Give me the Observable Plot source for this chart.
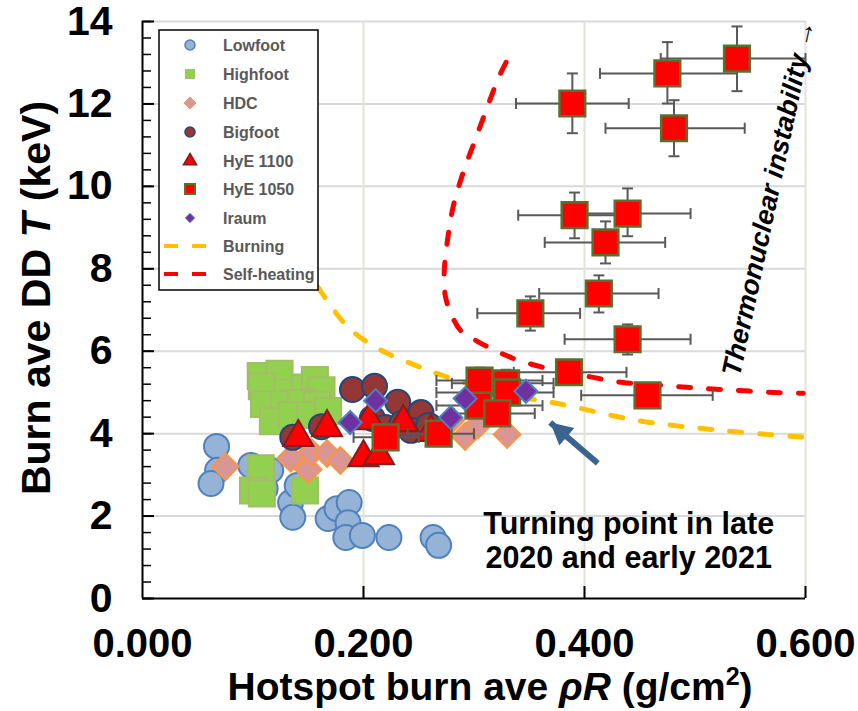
<!DOCTYPE html>
<html>
<head>
<meta charset="utf-8">
<script src="https://cdn.jsdelivr.net/npm/d3@7"></script>
<script src="https://cdn.jsdelivr.net/npm/@observablehq/plot@0.6"></script>
<style>
  html, body { margin: 0; padding: 0; background: #fff; }
  #chart { position: relative; width: 858px; height: 711px; }
  #legend { position: absolute; left: 158px; top: 29px; }
</style>
</head>
<body>
<div id="chart"></div>
<script>
// ---- axis ticks ----
const xTicks = [0, 0.2, 0.4, 0.6];
const yTicks = [0, 2, 4, 6, 8, 10, 12, 14];
const yMinorTicks = d3.range(0, 14.001, 0.4);

// ---- shot data: [hotspot rhoR (g/cm2), burn-averaged DD T (keV)] ----
const lowfoot = [
  [0.067, 3.69], [0.068, 3.11], [0.062, 2.79], [0.098, 3.23], [0.116, 3.11],
  [0.111, 2.67], [0.134, 2.33], [0.136, 1.97], [0.140, 2.74], [0.168, 1.94],
  [0.176, 2.18], [0.187, 2.33], [0.186, 1.84], [0.184, 1.48], [0.199, 1.53],
  [0.223, 1.48], [0.263, 1.48], [0.268, 1.29]
];
const highfoot = [
  [0.107, 5.40], [0.124, 5.45], [0.108, 5.15], [0.131, 5.00], [0.147, 5.12],
  [0.156, 5.30], [0.162, 5.05], [0.110, 4.72], [0.128, 4.72], [0.143, 4.75],
  [0.158, 4.70], [0.118, 4.30], [0.135, 4.45], [0.152, 4.45], [0.168, 4.55],
  [0.107, 3.16], [0.100, 2.62], [0.108, 2.55], [0.147, 2.62]
];
const hdc = [
  [0.075, 3.20], [0.134, 3.40], [0.150, 3.13], [0.153, 3.54], [0.167, 3.52],
  [0.179, 3.35], [0.279, 4.32], [0.292, 3.93], [0.304, 4.22], [0.330, 3.98]
];
const bigfoot = [
  [0.136, 3.91], [0.162, 4.17], [0.190, 5.07], [0.210, 5.15], [0.231, 4.76],
  [0.208, 4.37], [0.220, 4.15], [0.235, 4.25], [0.252, 4.51], [0.243, 4.08],
  [0.259, 4.20]
];
const hye1100 = [
  [0.141, 3.91], [0.167, 4.15], [0.205, 4.32], [0.200, 3.42], [0.214, 3.47],
  [0.236, 4.27], [0.261, 4.03]
];
// [rhoR, T, rhoR low, rhoR high, T low, T high]
const hye1050 = [
  [0.389, 12.01, 0.338, 0.440, 11.29, 12.74],
  [0.475, 12.74, 0.414, 0.538, 12.01, 13.50],
  [0.538, 13.10, 0.469, 0.600, 12.31, 13.88],
  [0.481, 11.41, 0.419, 0.545, 10.73, 12.09],
  [0.391, 9.30, 0.340, 0.440, 8.74, 9.85],
  [0.439, 9.34, 0.390, 0.496, 8.79, 9.95],
  [0.419, 8.64, 0.364, 0.473, 8.13, 9.15],
  [0.413, 7.40, 0.359, 0.467, 6.94, 7.84],
  [0.351, 6.92, 0.303, 0.396, 6.50, 7.33],
  [0.439, 6.29, 0.382, 0.496, 5.92, 6.65],
  [0.386, 5.49, 0.336, 0.438, 5.30, 5.70],
  [0.457, 4.93, 0.397, 0.516, 4.75, 5.10],
  [0.305, 5.29, 0.266, 0.362, 5.00, 5.60],
  [0.329, 5.22, 0.280, 0.372, 4.95, 5.55],
  [0.330, 5.00, 0.266, 0.372, 4.80, 5.25],
  [0.304, 4.68, 0.266, 0.362, 4.45, 4.95],
  [0.321, 4.49, 0.282, 0.355, 4.25, 4.75],
  [0.220, 3.91, 0.191, 0.250, 3.70, 4.10],
  [0.268, 4.00, 0.240, 0.300, 3.80, 4.20]
];
const iraum = [
  [0.188, 4.27], [0.211, 4.80], [0.279, 4.39], [0.292, 4.85], [0.347, 5.03]
];

// ---- model boundaries ----
const burningCurve = [
  [0.159, 7.55], [0.186, 6.58], [0.215, 6.04], [0.245, 5.68], [0.277, 5.36],
  [0.324, 4.98], [0.376, 4.73], [0.448, 4.32], [0.523, 4.08], [0.600, 3.91]
];
const selfHeatingCurve = [
  [0.329, 13.01], [0.322, 12.62], [0.312, 11.92], [0.301, 11.12], [0.290, 10.32],
  [0.281, 9.49], [0.276, 8.69], [0.273, 7.89], [0.274, 7.35], [0.279, 6.92],
  [0.288, 6.50], [0.303, 6.24], [0.319, 6.02], [0.338, 5.80], [0.367, 5.58],
  [0.399, 5.41], [0.435, 5.24], [0.471, 5.17], [0.505, 5.10], [0.538, 5.05],
  [0.571, 5.00], [0.598, 4.98]
];

// ---- annotations ----
const turningNote = [{x: 0.44, y: 1.42, text: "Turning point in late\n2020 and early 2021"}];
const thermoNote = [{x: 0.567, y: 9.72, text: "Thermonuclear instability \u2192"}];
const turningArrow = [{x1: 0.412, y1: 3.28, x2: 0.369, y2: 4.27}];

// ---- legend ----
const legendLabels = ["Lowfoot", "Highfoot", "HDC", "Bigfoot", "HyE 1100", "HyE 1050", "Iraum", "Burning", "Self-heating"];

// ---- styles ----
const FONT = "'Liberation Sans', Arial, Helvetica, sans-serif";
const W = 858, H = 711;
const M = {left: 142, right: 53, top: 21, bottom: 113};
const plotW = W - M.left - M.right, plotH = H - M.top - M.bottom;
const st = {
  lowfoot:  {fill: "#95b3d7", stroke: "#4f81bd"},
  highfoot: {fill: "#92d050", stroke: "#a3bd66"},
  hdc:      {fill: "#d99694", stroke: "#f79646"},
  bigfoot:  {fill: "#953735", stroke: "#1f497d"},
  hye1100:  {fill: "#ff0000", stroke: "#7f1f1f"},
  hye1050:  {fill: "#ff0000", stroke: "#5a7030"},
  iraum:    {fill: "#7030a0", stroke: "#4f81bd"},
  burning: "#ffc000", selfHeating: "#ff0000", errorBar: "#595959", arrow: "#3b6390"
};

// short line symbols for error-bar caps
const vCap = {draw(ctx, size) { const h = Math.sqrt(size / Math.PI); ctx.moveTo(0, -h); ctx.lineTo(0, h); }};
const hCap = {draw(ctx, size) { const h = Math.sqrt(size / Math.PI); ctx.moveTo(-h, 0); ctx.lineTo(h, 0); }};
// arrow head with its tip at the origin, pointing up
const arrowHead = {draw(ctx, size) {
  const s = Math.sqrt(size / Math.PI);
  ctx.moveTo(0, 0); ctx.lineTo(-s, 1.9 * s); ctx.lineTo(s, 1.9 * s); ctx.closePath();
}};

const sx = Plot.scale({x: {domain: [0, 0.6], range: [M.left, W - M.right]}});
const sy = Plot.scale({y: {domain: [0, 14], range: [H - M.bottom, M.top]}});
const a = turningArrow[0];
const headAngle = Math.atan2(sx.apply(a.x2) - sx.apply(a.x1), -(sy.apply(a.y2) - sy.apply(a.y1))) * 180 / Math.PI;

const series = (data, symbol, r, s, sw = 2) =>
  Plot.dot(data, {x: d => d[0], y: d => d[1], symbol, r, fill: s.fill, stroke: s.stroke, strokeWidth: sw});

const curve = (data, color) =>
  Plot.line(data, {x: d => d[0], y: d => d[1], curve: "catmull-rom", stroke: color,
    strokeWidth: 5, strokeDasharray: "12 18", strokeLinecap: "round"});

const chart = Plot.plot({
  width: W, height: H,
  marginLeft: M.left, marginRight: M.right, marginTop: M.top, marginBottom: M.bottom,
  x: {domain: [0, 0.6]},
  y: {domain: [0, 14]},
  style: {fontFamily: FONT, background: "#fff", overflow: "visible"},
  marks: [
    Plot.gridY(yTicks.slice(1), {stroke: "#d9d9d9", strokeOpacity: 1, strokeWidth: 2}),
    Plot.gridX(xTicks.slice(1), {stroke: "#e6e2d5", strokeOpacity: 1, strokeWidth: 2}),
    curve(burningCurve, st.burning),
    curve(selfHeatingCurve, st.selfHeating),
    series(lowfoot, "circle", 12.5, st.lowfoot),
    series(highfoot, "square", 14.7, st.highfoot),
    series(hdc, "diamond2", 12, st.hdc),
    series(bigfoot, "circle", 12.5, st.bigfoot),
    series(hye1100, "triangle", 11.2, st.hye1100),
    // error bars behind the HyE 1050 squares
    Plot.ruleY(hye1050, {y: d => d[1], x1: d => d[2], x2: d => d[3], stroke: st.errorBar, strokeWidth: 2}),
    Plot.ruleX(hye1050, {x: d => d[0], y1: d => d[4], y2: d => d[5], stroke: st.errorBar, strokeWidth: 2}),
    Plot.dot(hye1050, {x: d => d[2], y: d => d[1], symbol: vCap, r: 5.5, fill: "none", stroke: st.errorBar, strokeWidth: 2}),
    Plot.dot(hye1050, {x: d => d[3], y: d => d[1], symbol: vCap, r: 5.5, fill: "none", stroke: st.errorBar, strokeWidth: 2}),
    Plot.dot(hye1050, {x: d => d[0], y: d => d[4], symbol: hCap, r: 5.5, fill: "none", stroke: st.errorBar, strokeWidth: 2}),
    Plot.dot(hye1050, {x: d => d[0], y: d => d[5], symbol: hCap, r: 5.5, fill: "none", stroke: st.errorBar, strokeWidth: 2}),
    series(hye1050, "square", 14.5, st.hye1050, 2.5),
    series(iraum, "diamond2", 10.4, st.iraum),
    // axes
    Plot.tickY(yMinorTicks, {y: d => d, insetRight: plotW - 9, stroke: "#000", strokeWidth: 1.5}),
    Plot.tickY(yTicks, {y: d => d, insetRight: plotW - 12, stroke: "#000", strokeWidth: 2}),
    Plot.tickX(xTicks.slice(1), {x: d => d, insetTop: plotH - 12, stroke: "#000", strokeWidth: 2}),
    Plot.ruleX([0], {stroke: "#000", strokeWidth: 2}),
    Plot.ruleY([0], {stroke: "#000", strokeWidth: 2}),
    Plot.axisY(yTicks, {tickSize: 0, tickPadding: 30, fontSize: 41, fontWeight: "bold", label: null, fill: "#000"}),
    Plot.axisX(xTicks, {tickSize: 0, tickPadding: 30, fontSize: 40, fontWeight: "bold", label: null, fill: "#000",
      tickFormat: d3.format(".3f")}),
    // annotations
    Plot.link(turningArrow, {x1: "x1", y1: "y1", x2: "x2", y2: "y2", stroke: st.arrow, strokeWidth: 6}),
    Plot.dot(turningArrow, {x: "x2", y: "y2", symbol: arrowHead, r: 11.5, rotate: headAngle, fill: st.arrow, stroke: "none"}),
    Plot.text(turningNote, {x: "x", y: "y", text: "text", fontSize: 30.5, fontWeight: "bold", lineHeight: 1.14, fill: "#000"}),
    Plot.text(thermoNote, {x: "x", y: "y", text: "text", rotate: -78, fontSize: 27, fontWeight: "bold", fontStyle: "italic", fill: "#000"})
  ]
});

const root = document.getElementById("chart");
root.appendChild(chart);

// axis titles with italic symbols and superscript
const svg = d3.select(chart);
const yTitle = svg.append("text")
  .attr("transform", `translate(36,${M.top + plotH * 0.48}) rotate(-90)`)
  .attr("text-anchor", "middle").attr("dominant-baseline", "central")
  .attr("font-family", FONT).attr("font-size", 41).attr("font-weight", "bold").attr("fill", "#000");
yTitle.append("tspan").text("Burn ave DD ");
yTitle.append("tspan").attr("font-style", "italic").text("T");
yTitle.append("tspan").text(" (keV)");

const xTitle = svg.append("text")
  .attr("x", M.left + plotW * 0.525).attr("y", H - 11)
  .attr("text-anchor", "middle")
  .attr("font-family", FONT).attr("font-size", 39).attr("font-weight", "bold").attr("fill", "#000");
xTitle.append("tspan").text("Hotspot burn ave ");
xTitle.append("tspan").attr("font-style", "italic").text("\u03c1R");
xTitle.append("tspan").text(" (g/cm");
xTitle.append("tspan").attr("font-size", 25).attr("dy", -15).text("2");
xTitle.append("tspan").attr("dy", 15).text(")");

// legend box
const legendMarkers = [
  {type: d3.symbolCircle, size: 80, ...st.lowfoot, sw: 1.5},
  {type: d3.symbolSquare, size: 81, ...st.highfoot, sw: 1},
  {type: d3.symbolDiamond2, size: 90, ...st.hdc, sw: 1},
  {type: d3.symbolCircle, size: 80, ...st.bigfoot, sw: 1.5},
  {type: d3.symbolTriangle, size: 75, ...st.hye1100, sw: 1.5},
  {type: d3.symbolSquare, size: 100, ...st.hye1050, sw: 2},
  {type: d3.symbolDiamond2, size: 55, ...st.iraum, sw: 1},
  {line: st.burning},
  {line: st.selfHeating}
];
const LW = 161, LH = 262, rowY = [16, 45, 74, 103, 132, 160, 189, 217, 245];
const leg = d3.select(root).append("svg").attr("id", "legend").attr("width", LW).attr("height", LH);
leg.append("rect").attr("x", 1).attr("y", 1).attr("width", LW - 2).attr("height", LH - 2)
  .attr("fill", "#fff").attr("stroke", "#000").attr("stroke-width", 1.5);
legendLabels.forEach((label, i) => {
  const m = legendMarkers[i], g = leg.append("g").attr("transform", `translate(0,${rowY[i]})`);
  if (m.line) {
    g.append("line").attr("x1", 6).attr("x2", 50).attr("stroke", m.line).attr("stroke-width", 4)
      .attr("stroke-dasharray", "14 14");
  } else {
    g.append("path").attr("transform", "translate(32,0)").attr("d", d3.symbol(m.type, m.size)())
      .attr("fill", m.fill).attr("stroke", m.stroke).attr("stroke-width", m.sw);
  }
  g.append("text").attr("x", 65).attr("dy", "0.36em").attr("font-family", FONT).attr("font-size", 16)
    .attr("font-weight", "bold").attr("fill", "#595959").text(label);
});
</script>
</body>
</html>
